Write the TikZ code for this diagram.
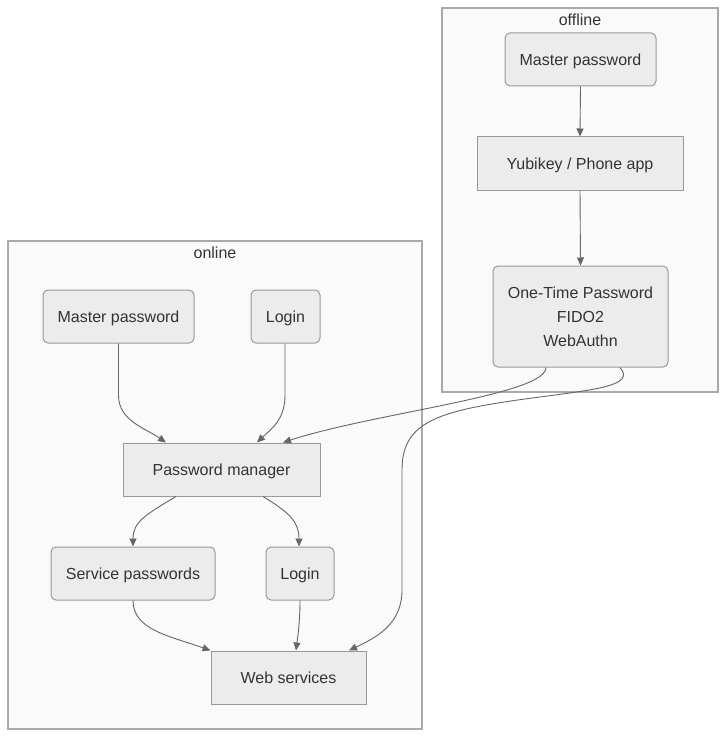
\documentclass[tikz,border=0pt]{standalone}
\usepackage{fontspec}
\setmainfont{Liberation Sans}
\usetikzlibrary{arrows.meta}
\definecolor{nodefill}{HTML}{ECECEC}
\definecolor{nodedraw}{HTML}{999999}
\definecolor{clfill}{HTML}{FAFAFA}
\definecolor{cldraw}{HTML}{AAAAAA}
\definecolor{txt}{HTML}{333333}
\definecolor{edge}{HTML}{666666}
\tikzset{
  box/.style={draw=nodedraw, fill=nodefill, line width=1pt, text=txt,
    font=\fontsize{16}{24}\selectfont, inner sep=0pt, align=center, minimum height=53pt},
  rbox/.style={box, rounded corners=5pt},
  oneline/.style={text height=13pt, text depth=1pt},
  cluster/.style={draw=cldraw, fill=clfill, line width=1.2pt},
  cllabel/.style={text=txt, font=\fontsize{16}{19}\selectfont, inner sep=0pt},
  conn/.style={draw=edge, line width=0.9pt, -{Triangle[length=8pt,width=7pt]}},
}
\begin{document}
\begin{tikzpicture}[x=1pt,y=-1pt]
\useasboundingbox (0,0) rectangle (727,738);
% clusters
\draw[cluster] (442,8) rectangle (718,392);
\node[cllabel] (offlbl) at (580,20) {offline};
\draw[cluster] (8,241) rectangle (422,729);
\node[cllabel] (onlbl) at (215,253) {online};
% offline nodes
\node[rbox, oneline, minimum width=151pt] (omp) at (580.5,59.5) {Master password};
\node[box, oneline, minimum width=206pt] (yubi) at (580,163.5) {Yubikey / Phone app};
\node[rbox, minimum width=175pt, minimum height=101pt] (otp) at (580.5,316.5) {One-Time Password\\FIDO2\\WebAuthn};
% online nodes
\node[rbox, oneline, minimum width=151pt] (mp) at (118.5,316.5) {Master password};
\node[rbox, oneline, minimum width=69pt] (login1) at (285.5,316.5) {Login};
\node[box, oneline, minimum width=197pt] (pm) at (221.5,469.5) {Password manager};
\node[rbox, oneline, minimum width=164pt] (sp) at (133,573.5) {Service passwords};
\node[rbox, oneline, minimum width=68pt] (login2) at (300,573.5) {Login};
\node[box, oneline, minimum width=155pt] (web) at (288.5,677.5) {Web services};
% edges
\draw[conn] (omp.south) -- (yubi.north);
\draw[conn] (yubi.south) -- (otp.north);
\draw[conn] (mp.south) -- ++(0,52) .. controls +(0,25) and (145,428) .. ([xshift=-55.5pt]pm.north);
\draw[conn] ([xshift=-0.5pt]login1.south) -- ++(0,52) .. controls +(0,25) and (270,430) .. ([xshift=35.5pt]pm.north);
\draw[conn] ([xshift=-34.5pt]otp.south) .. controls (546,395) and (373,413) .. ([xshift=61.5pt]pm.north);
\draw[conn] ([xshift=39.5pt]otp.south) .. controls (635,385) and (600,389) .. (540,397)
   .. controls (440,410) and (402,420) .. (402,470) -- (402,590)
   .. controls (402,625) and (375,638) .. ([xshift=60.5pt]web.north);
\draw[conn] ([xshift=-45.5pt]pm.south) .. controls (145,515) and (133,522) .. (sp.north);
\draw[conn] ([xshift=41.5pt]pm.south) .. controls (290,513) and (299,522) .. ([xshift=-1pt]login2.north);
\draw[conn] (sp.south) .. controls (133,630) and (170,636) .. (web.north west);
\draw[conn] (login2.south) .. controls (300,620) and (298,635) .. ([xshift=7.5pt]web.north);
\end{tikzpicture}
\end{document}
